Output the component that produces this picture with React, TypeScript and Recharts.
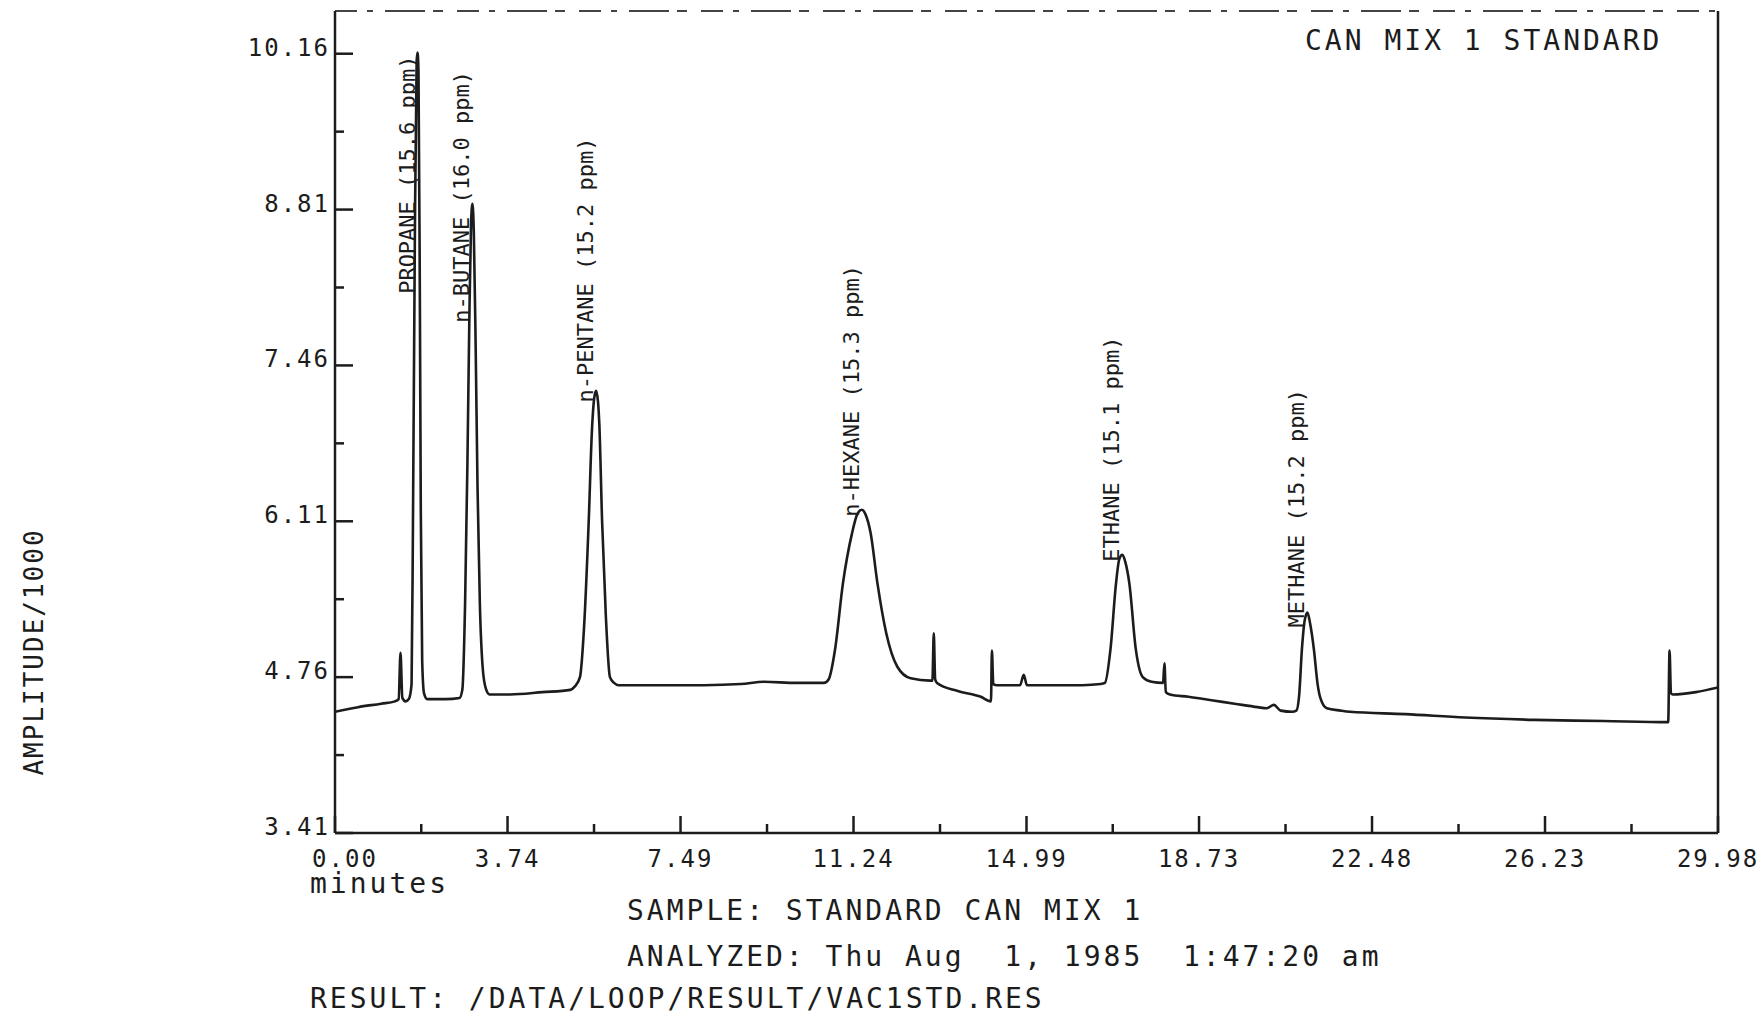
import React from "react";
import {
  ComposedChart,
  Line,
  Scatter,
  XAxis,
  YAxis,
  ReferenceLine,
} from "recharts";

// ---- data ----
const traceTime = [
  0.0, 0.5, 1.0, 1.3, 1.38, 1.42, 1.46, 1.53, 1.6, 1.66, 1.69, 1.73, 1.77, 1.79, 1.81, 1.84, 1.86, 1.89, 1.93, 2.0,
  2.4, 2.7, 2.76, 2.82, 2.87, 2.91, 2.95, 2.98, 3.01, 3.05, 3.09, 3.14, 3.2, 3.27, 3.35, 3.8, 4.5, 5.1, 5.2, 5.31,
  5.4, 5.5, 5.57, 5.62, 5.66, 5.7, 5.73, 5.79, 5.87, 5.96, 6.05, 6.15, 6.5, 7.0, 8.0, 8.8, 9.3, 10.0, 10.6, 10.7,
  10.84, 11.01, 11.21, 11.32, 11.42, 11.5, 11.61, 11.76, 11.95, 12.19, 12.48, 12.9, 12.95, 12.98, 13.01, 13.05,
  13.5, 14.0, 14.22, 14.24, 14.27, 14.35, 14.85, 14.93, 15.0, 15.5, 16.2, 16.6, 16.69, 16.81, 16.93, 17.0, 17.07,
  17.13, 17.22, 17.36, 17.51, 17.7, 17.95, 17.98, 18.01, 18.1, 18.5, 19.0, 19.5, 20.0, 20.2, 20.35, 20.5, 20.75,
  20.84, 20.9, 20.96, 21.02, 21.08, 21.14, 21.22, 21.3, 21.36, 21.5, 21.8, 22.0, 23.2, 24.5, 26.0, 27.5, 28.9,
  28.93, 28.96, 29.0, 29.5, 29.98,
];
const traceAmplitude = [
  4.46, 4.5, 4.53, 4.55, 4.57, 4.97, 4.58, 4.55, 4.57, 4.7, 6.1, 8.5, 10.1, 10.17, 10.0, 8.0, 6.2, 4.9, 4.62, 4.57,
  4.57, 4.58, 4.65, 5.4, 6.6, 7.8, 8.7, 8.86, 8.6, 7.6, 6.4, 5.4, 4.85, 4.66, 4.61, 4.61, 4.63, 4.65, 4.68, 4.76,
  5.2, 6.11, 6.9, 7.18, 7.24, 7.15, 6.95, 6.11, 5.3, 4.76, 4.71, 4.69, 4.69, 4.69, 4.69, 4.7, 4.72, 4.71, 4.71, 4.74,
  5.0, 5.57, 6.01, 6.17, 6.21, 6.17, 6.01, 5.57, 5.14, 4.85, 4.75, 4.73, 4.73, 5.14, 4.74, 4.71,
  4.64, 4.59, 4.55, 4.99, 4.7, 4.69, 4.69, 4.78, 4.69, 4.69, 4.69, 4.7, 4.71, 5.0, 5.57, 5.78, 5.82,
  5.76, 5.57, 5.0, 4.76, 4.72, 4.71, 4.88, 4.63, 4.61, 4.59, 4.56, 4.53, 4.5, 4.49, 4.52, 4.47, 4.46,
  4.47, 4.6, 5.0, 5.25, 5.32, 5.22, 5.0, 4.7, 4.58, 4.49, 4.47, 4.46, 4.44, 4.41, 4.39, 4.38, 4.37,
  4.99, 4.62, 4.61, 4.63, 4.67,
];

const peakNames = [
  "PROPANE (15.6 ppm)",
  "n-BUTANE (16.0 ppm)",
  "n-PENTANE (15.2 ppm)",
  "n-HEXANE (15.3 ppm)",
  "ETHANE (15.1 ppm)",
  "METHANE (15.2 ppm)",
];
const peakTimes = [1.79, 2.98, 5.66, 11.42, 17.07, 21.08];
const peakLabelBase = [8.08, 7.83, 7.14, 6.15, 5.76, 5.19];

const xMajorTicks = [0.0, 3.74, 7.49, 11.24, 14.99, 18.73, 22.48, 26.23, 29.98];
const xMajorLabels = ["0.00", "3.74", "7.49", "11.24", "14.99", "18.73", "22.48", "26.23", "29.98"];
const xMinorTicks = [1.87, 5.615, 9.365, 13.115, 16.86, 20.605, 24.355, 28.105];
const yMajorTicks = [3.41, 4.76, 6.11, 7.46, 8.81, 10.16];
const yMajorLabels = ["3.41", "4.76", "6.11", "7.46", "8.81", "10.16"];
const yMinorTicks = [4.085, 5.435, 6.785, 8.135, 9.485];

const X_DOMAIN: [number, number] = [0, 29.98];
const Y_DOMAIN: [number, number] = [3.41, 10.53];

const traceData = traceTime.map((t, i) => ({ t, v: traceAmplitude[i] }));
const peakData = peakNames.map((name, i) => ({ t: peakTimes[i], v: peakLabelBase[i], name }));

const INK = "#1c1c1c";
const MONO = "'DejaVu Sans Mono', monospace";

const XTick = (props: any) => {
  const { x, y, payload } = props;
  const idx = xMajorTicks.indexOf(payload.value);
  const major = idx >= 0;
  const lx = idx === 0 ? x + 10 : x;
  return (
    <g>
      <line x1={x} y1={y} x2={x} y2={y - (major ? 17 : 9)} stroke={INK} strokeWidth={2.5} />
      {major && (
        <text x={lx} y={y + 34} textAnchor="middle" fontFamily={MONO} fontSize={24} letterSpacing={2} fill={INK}>
          {xMajorLabels[idx]}
        </text>
      )}
    </g>
  );
};

const YTick = (props: any) => {
  const { x, y, payload } = props;
  const idx = yMajorTicks.indexOf(payload.value);
  const major = idx >= 0;
  return (
    <g>
      <line x1={x} y1={y} x2={x + (major ? 18 : 9)} y2={y} stroke={INK} strokeWidth={2.5} />
      {major && (
        <text x={x - 5} y={y + 2} textAnchor="end" fontFamily={MONO} fontSize={24} letterSpacing={2} fill={INK}>
          {yMajorLabels[idx]}
        </text>
      )}
    </g>
  );
};

const PeakLabel = (props: any) => {
  const { cx, cy, payload } = props;
  if (cx == null || cy == null) return null;
  const x = cx - 3;
  return (
    <text
      x={x}
      y={cy}
      transform={`rotate(-90 ${x} ${cy})`}
      textAnchor="start"
      fontFamily={MONO}
      fontSize={22}
      fill={INK}
    >
      {payload.name}
    </text>
  );
};

const textStyle: React.CSSProperties = {
  position: "absolute",
  fontFamily: MONO,
  color: INK,
  whiteSpace: "pre",
  lineHeight: 1,
};

export default function App() {
  return (
    <div style={{ position: "absolute", left: 0, top: 0, width: 1762, height: 1016, background: "#fff" }}>
      <ComposedChart
        width={1762}
        height={1016}
        margin={{ top: 11, right: 44, bottom: 153, left: 275 }}
      >
        <XAxis
          type="number"
          dataKey="t"
          domain={X_DOMAIN}
          ticks={[...xMajorTicks, ...xMinorTicks].sort((a, b) => a - b)}
          interval={0}
          height={30}
          tickSize={0}
          tickMargin={0}
          tickLine={false}
          axisLine={{ stroke: INK, strokeWidth: 2.5 }}
          tick={XTick}
          allowDataOverflow
        />
        <YAxis
          type="number"
          domain={Y_DOMAIN}
          ticks={[...yMajorTicks, ...yMinorTicks].sort((a, b) => a - b)}
          interval={0}
          width={60}
          tickSize={0}
          tickMargin={0}
          tickLine={false}
          axisLine={{ stroke: INK, strokeWidth: 2.5 }}
          tick={YTick}
          allowDataOverflow
        />
        <ReferenceLine x={29.98} stroke={INK} strokeWidth={2.5} />
        <ReferenceLine y={10.53} stroke="#444" strokeWidth={2} strokeDasharray="22 10 6 12 40 8 10 14" />
        <Line
          data={traceData}
          dataKey="v"
          type="monotoneX"
          stroke={INK}
          strokeWidth={2.6}
          dot={false}
          activeDot={false}
          isAnimationActive={false}
        />
        <Scatter data={peakData} dataKey="v" shape={PeakLabel} isAnimationActive={false} />
      </ComposedChart>

      <div style={{ ...textStyle, left: 1305, top: 27, fontSize: 28, letterSpacing: 3 }}>CAN MIX 1 STANDARD</div>
      <div
        style={{
          ...textStyle,
          left: 34,
          top: 652,
          fontSize: 26,
          letterSpacing: 2,
          transform: "translate(-50%, -50%) rotate(-90deg)",
        }}
      >
        AMPLITUDE/1000
      </div>
      <div style={{ ...textStyle, left: 310, top: 874, fontSize: 28, letterSpacing: 3, lineHeight: "20px" }}>minutes</div>
      <div style={{ ...textStyle, left: 627, top: 897, fontSize: 28, letterSpacing: 3 }}>SAMPLE: STANDARD CAN MIX 1</div>
      <div style={{ ...textStyle, left: 627, top: 943, fontSize: 28, letterSpacing: 3 }}>
        {"ANALYZED: Thu Aug  1, 1985  1:47:20 am"}
      </div>
      <div style={{ ...textStyle, left: 310, top: 985, fontSize: 28, letterSpacing: 3 }}>
        RESULT: /DATA/LOOP/RESULT/VAC1STD.RES
      </div>
    </div>
  );
}
